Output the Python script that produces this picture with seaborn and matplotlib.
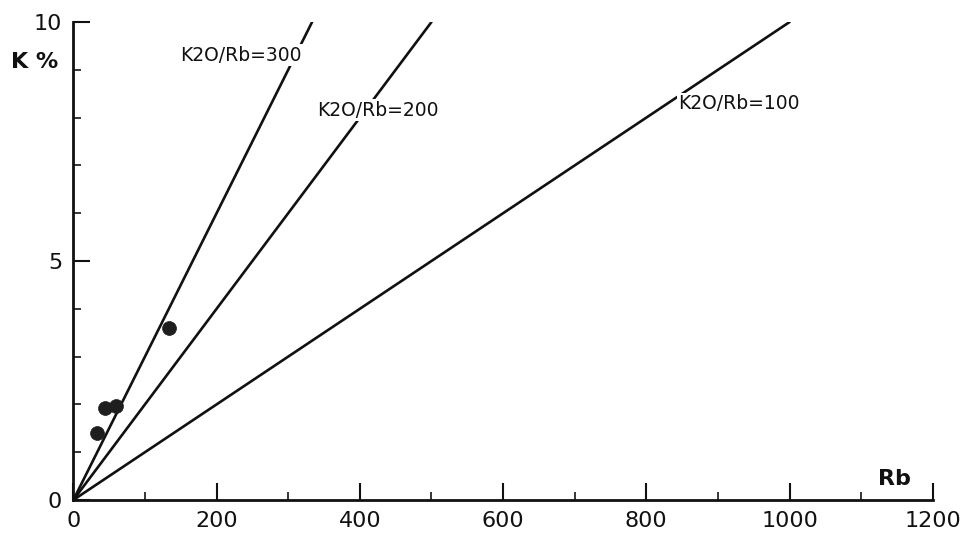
import numpy as np
import pandas as pd
import matplotlib
matplotlib.use("Agg")
import matplotlib.pyplot as plt
import seaborn as sns

# Data
rb = [33, 44, 60, 133]
k_pct = [1.40, 1.92, 1.97, 3.60]
ratios = [300, 200, 100]
ratio_labels = ["K2O/Rb=300", "K2O/Rb=200", "K2O/Rb=100"]
label_x = [149, 341, 845]
label_y = [9.31, 8.16, 8.30]
x_ticks = [0, 200, 400, 600, 800, 1000, 1200]
y_ticks = [0, 5, 10]

sns.set_theme(style="white")
plt.rcParams['font.family'] = ['DejaVu Sans']

fig = plt.figure(figsize=(9.7, 5.37), dpi=100)
ax = fig.add_axes([0.0756, 0.0689, 0.886, 0.890])

# reference lines: K = ratio * Rb / 10000, drawn up to K = 10
rows = []
for r in ratios:
    x_end = 10.0 / (r / 10000.0)
    rows.append({"ratio": r, "Rb": 0.0, "K": 0.0})
    rows.append({"ratio": r, "Rb": x_end, "K": 10.0})
lines_df = pd.DataFrame(rows)
for r in ratios:
    sub = lines_df[lines_df.ratio == r]
    sns.lineplot(data=sub, x="Rb", y="K", ax=ax, color="#111111", lw=1.9,
                 zorder=2, legend=False, estimator=None, sort=False)

pts = pd.DataFrame({"Rb": rb, "K": k_pct})
sns.scatterplot(data=pts, x="Rb", y="K", ax=ax, color="#1e1e1e", s=100,
                edgecolor="#1e1e1e", linewidth=0.5, zorder=4, legend=False)

for lab, lx, ly in zip(ratio_labels, label_x, label_y):
    ax.text(lx, ly, lab, fontsize=13.5, color="#111111", ha="left", va="center",
            zorder=5, bbox=dict(facecolor="white", edgecolor="none", pad=1.0))

ax.set_xlim(0, 1200)
ax.set_ylim(0, 10)
ax.set_xticks(x_ticks)
ax.set_yticks(y_ticks)
ax.set_xticks(np.arange(0, 1201, 100), minor=True)
ax.set_yticks(np.arange(0, 11, 1), minor=True)
ax.tick_params(axis="both", which="major", direction="in", length=12, width=1.5,
               labelsize=16, colors="#111111", left=True, bottom=True)
ax.tick_params(axis="x", which="major", pad=8)
ax.tick_params(axis="y", which="major", pad=8)
ax.tick_params(axis="both", which="minor", direction="in", length=6, width=1.3,
               left=True, bottom=True)
for s in ["top", "right"]:
    ax.spines[s].set_visible(False)
for s in ["left", "bottom"]:
    ax.spines[s].set_color("#111111")
    ax.spines[s].set_linewidth(2.0)
ax.set_xlabel("")
ax.set_ylabel("")
ax.set_facecolor("white")

ax.text(-0.072, 0.916, "K %", transform=ax.transAxes, fontsize=16,
        fontweight="bold", color="#111111", ha="left", va="center")
ax.text(0.936, 0.044, "Rb", transform=ax.transAxes, fontsize=16,
        fontweight="bold", color="#111111", ha="left", va="center")

fig.savefig("out.png", dpi=100, facecolor="white")
